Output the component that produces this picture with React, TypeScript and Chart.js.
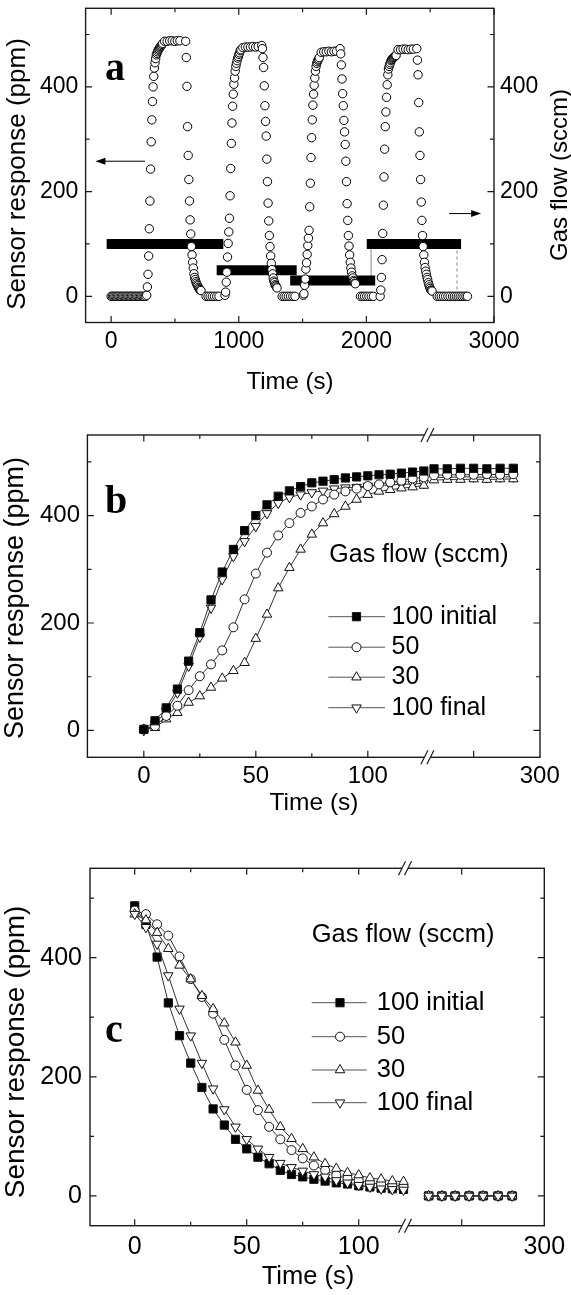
import React, { useEffect, useRef } from "react";
import { Chart, registerables } from "chart.js";
import { drawPoint } from "chart.js/helpers";

Chart.register(...registerables);

// ======================= DATA =======================
const seriesNames = ["100 initial", "50", "30", "100 final"];

// Panel b: response rise after switching the gas on (time in s, response in ppm)
const riseTimes = [0, 5, 10, 15, 20, 25, 30, 35, 40, 45, 50, 55, 60, 65, 70, 75, 80, 85, 90, 95, 100, 105, 110, 115, 120, 125];
const rise100Initial = [2, 18, 42, 77, 129, 182, 243, 295, 337, 372, 400, 420, 436, 446, 454, 461, 464, 467, 470, 472, 474, 476, 477, 479, 481, 483];
const rise50 = [2, 8, 27, 46, 75, 101, 123, 149, 192, 244, 292, 331, 363, 386, 405, 417, 430, 439, 445, 450, 455, 458, 462, 465, 469, 471];
const rise30 = [2, 5, 21, 33, 52, 64, 80, 97, 111, 126, 171, 216, 265, 303, 337, 365, 386, 403, 417, 430, 439, 445, 448, 451, 453, 456];
const rise100Final = [0, 12, 36, 70, 120, 174, 228, 281, 324, 352, 380, 404, 423, 434, 439, 443, 446, 450, 452, 453, 455, 456, 457, 458, 459, 460];
const riseLateTimes = [140, 160, 180, 200, 220, 240, 260];
const riseLate100Initial = [487, 487, 488, 488, 487, 488, 488];
const riseLate50 = [475, 476, 476, 476, 477, 476, 477];
const riseLate30 = [466, 467, 467, 468, 467, 468, 468];
const riseLate100Final = [471, 471, 472, 472, 471, 472, 472];

// Panel c: response decay after switching the gas off
const decayTimes = [0, 5, 10, 15, 20, 25, 30, 35, 40, 45, 50, 55, 60, 65, 70, 75, 80, 85, 90, 95, 100, 105, 110, 115, 120];
const decay100Initial = [487, 456, 401, 324, 269, 223, 182, 146, 119, 95, 79, 65, 54, 43, 36, 32, 28, 25, 22, 20, 17, 15, 13, 12, 11];
const decay50 = [479, 473, 456, 437, 402, 364, 334, 306, 262, 219, 178, 144, 116, 95, 77, 63, 51, 43, 35, 29, 26, 22, 20, 18, 16];
const decay30 = [473, 463, 442, 415, 387, 364, 336, 314, 290, 258, 219, 177, 145, 116, 96, 79, 65, 54, 46, 39, 35, 30, 28, 25, 24];
const decay100Final = [473, 451, 423, 370, 314, 269, 223, 180, 145, 116, 95, 79, 65, 55, 48, 42, 36, 32, 26, 22, 18, 15, 12, 11, 10];
const decayLateTimes = [160, 176, 192, 209, 226, 244, 261];
const decayLate100Initial = [0, 0, 0, 0, 0, 0, 0];
const decayLate50 = [0, 0, 0, 0, 0, 0, 0];
const decayLate30 = [0, 0, 0, 0, 0, 0, 0];
const decayLate100Final = [0, 0, 0, 0, 0, 0, 0];

// Panel a: whole run – cycle timing, baselines and gas flow
const cycleRiseStart = [279, 892, 1506, 2108];
const cycleDecayStart = [584, 1180, 1794, 2395];
const baselineHeadTimes = [0, 10, 20, 30, 40, 50, 60, 70, 80, 90, 100, 110, 120, 130, 140, 150, 160, 170, 180, 190, 200, 210, 220, 230, 240, 250, 260, 270];
const baselineHeadValues = [0, 0, 0, 0, 0, 0, 0, 0, 0, 0, 0, 0, 0, 0, 0, 0, 0, 0, 0, 0, 0, 0, 0, 0, 0, 0, 0, 0];
const baselineTailTimes = [2675, 2690, 2705, 2720, 2735, 2750, 2765, 2780, 2792];
const baselineTailValues = [0, 0, 0, 0, 0, 0, 0, 0, 0];
const flowStart = [-35, 827, 1403, 2003];
const flowEnd = [879, 1454, 2069, 2742];
const flowValue = [100, 50, 30, 100];
const flowStepTime = [2037, 2710];
const flowStepFrom = [30, 13];
const flowStepTo = [100, 90];

// Tick values
const responseMajorTicks = [0, 200, 400];
const responseMinorTicks = [100, 300, 500];
const timeMajorTicksA = [0, 1000, 2000, 3000];
const timeMinorTicksA = [500, 1500, 2500];
const timeMajorTicksBC = [0, 50, 100];
const timeMinorTicksBC = [25, 75];
const timeTickAfterBreak = 200;
const timeLabelAfterBreak = 300;

const riseSeries = [rise100Initial, rise50, rise30, rise100Final];
const riseLateSeries = [riseLate100Initial, riseLate50, riseLate30, riseLate100Final];
const decaySeries = [decay100Initial, decay50, decay30, decay100Final];
const decayLateSeries = [decayLate100Initial, decayLate50, decayLate30, decayLate100Final];

// ======================= STYLE =======================
const SANS = '"Liberation Sans", Arial, Helvetica, sans-serif';
const SERIF = '"Liberation Serif", "Times New Roman", serif';
const f = (px: number) => `${px}px ${SANS}`;

type Sty = { pointStyle: any; rotation: number; radius: number; fill: string };
const markerStyles: Sty[] = [
  { pointStyle: "rect", rotation: 0, radius: 5.8, fill: "#000" },
  { pointStyle: "circle", rotation: 0, radius: 4.5, fill: "#fff" },
  { pointStyle: "triangle", rotation: 0, radius: 5.5, fill: "#fff" },
  { pointStyle: "triangle", rotation: 180, radius: 5.5, fill: "#fff" },
];

// broken-axis display transforms (right segment of panels b and c)
const mapB = (t: number) => 129.55 + (t - 140) * 0.2951;
const mapC = (t: number) => 145.98 + (t - 200) * 0.3688;

type Tick = { v: number; label?: string; minor?: boolean; noMark?: boolean };
type TextItem = { text: string; x: number; y: number; font: string; rotate?: boolean; align?: CanvasTextAlign; baseline?: CanvasTextBaseline };
interface Decor {
  xTicks: Tick[];
  yTicks: Tick[];
  tickFont: string;
  xLabelY: number;
  yLabelLeftX: number;
  yLabelRightX?: number;
  texts: TextItem[];
  breakAt?: number;
  arrows?: { x1: number; x2: number; y: number }[];
  legend?: { hx: number; hy: number; x1: number; x2: number; xs: number; xt: number; ys: number[]; font: string };
}

function decorPlugin(d: Decor) {
  return {
    id: "decor",
    afterDraw(chart: any) {
      const { ctx, chartArea: ca } = chart;
      const xs = chart.scales.x;
      const ys = chart.scales.y;
      ctx.save();
      // frame
      ctx.strokeStyle = "#1a1a1a";
      ctx.lineWidth = 1.4;
      ctx.strokeRect(ca.left, ca.top, ca.right - ca.left, ca.bottom - ca.top);
      // ticks
      ctx.lineWidth = 1.2;
      for (const t of d.xTicks) {
        if (t.noMark) continue;
        const px = xs.getPixelForValue(t.v);
        const len = t.minor ? 4 : 6.5;
        ctx.beginPath();
        ctx.moveTo(px, ca.bottom);
        ctx.lineTo(px, ca.bottom - len);
        ctx.moveTo(px, ca.top);
        ctx.lineTo(px, ca.top + len);
        ctx.stroke();
      }
      for (const t of d.yTicks) {
        const py = ys.getPixelForValue(t.v);
        const len = t.minor ? 4 : 6.5;
        ctx.beginPath();
        ctx.moveTo(ca.left, py);
        ctx.lineTo(ca.left + len, py);
        ctx.moveTo(ca.right, py);
        ctx.lineTo(ca.right - len, py);
        ctx.stroke();
      }
      // tick labels
      ctx.fillStyle = "#000";
      ctx.font = d.tickFont;
      ctx.textBaseline = "middle";
      ctx.textAlign = "center";
      for (const t of d.xTicks) {
        if (t.label) ctx.fillText(t.label, xs.getPixelForValue(t.v), d.xLabelY);
      }
      for (const t of d.yTicks) {
        if (!t.label) continue;
        const py = ys.getPixelForValue(t.v);
        ctx.textAlign = "right";
        ctx.fillText(t.label, d.yLabelLeftX, py);
        if (d.yLabelRightX !== undefined) {
          ctx.textAlign = "left";
          ctx.fillText(t.label, d.yLabelRightX, py);
        }
      }
      // axis break marks
      if (d.breakAt !== undefined) {
        const bx = xs.getPixelForValue(d.breakAt);
        for (const by of [ca.top, ca.bottom]) {
          ctx.fillStyle = "#fff";
          ctx.fillRect(bx - 3, by - 2, 6, 4);
          ctx.strokeStyle = "#1a1a1a";
          ctx.lineWidth = 1.2;
          for (const dx of [-3, 3]) {
            ctx.beginPath();
            ctx.moveTo(bx + dx - 3.5, by + 7);
            ctx.lineTo(bx + dx + 3.5, by - 7);
            ctx.stroke();
          }
        }
      }
      // arrows
      ctx.strokeStyle = "#000";
      ctx.fillStyle = "#000";
      ctx.lineWidth = 1;
      for (const a of d.arrows || []) {
        const x1 = xs.getPixelForValue(a.x1);
        const x2 = xs.getPixelForValue(a.x2);
        const y = ys.getPixelForValue(a.y);
        const dir = Math.sign(x2 - x1);
        ctx.beginPath();
        ctx.moveTo(x1, y);
        ctx.lineTo(x2 - dir * 6, y);
        ctx.stroke();
        ctx.beginPath();
        ctx.moveTo(x2, y);
        ctx.lineTo(x2 - dir * 10, y - 3.5);
        ctx.lineTo(x2 - dir * 10, y + 3.5);
        ctx.closePath();
        ctx.fill();
      }
      // legend
      if (d.legend) {
        const L = d.legend;
        ctx.font = L.font;
        ctx.fillStyle = "#000";
        ctx.textAlign = "left";
        ctx.textBaseline = "middle";
        ctx.fillText("Gas flow (sccm)", L.hx, L.hy);
        L.ys.forEach((yy, i) => {
          ctx.strokeStyle = "#555";
          ctx.lineWidth = 1;
          ctx.beginPath();
          ctx.moveTo(L.x1, yy);
          ctx.lineTo(L.x2, yy);
          ctx.stroke();
          const st = markerStyles[i];
          ctx.fillStyle = st.fill;
          ctx.strokeStyle = "#111";
          ctx.lineWidth = 1;
          drawPoint(ctx, { pointStyle: st.pointStyle, rotation: st.rotation, radius: st.radius, borderWidth: 1 } as any, L.xs, yy);
          ctx.fillStyle = "#000";
          ctx.fillText(seriesNames[i], L.xt, yy);
        });
      }
      // free texts
      for (const t of d.texts) {
        ctx.save();
        ctx.font = t.font;
        ctx.fillStyle = "#000";
        ctx.textAlign = t.align || "center";
        ctx.textBaseline = t.baseline || "middle";
        ctx.translate(t.x, t.y);
        if (t.rotate) ctx.rotate(-Math.PI / 2);
        ctx.fillText(t.text, 0, 0);
        ctx.restore();
      }
      ctx.restore();
    },
  };
}

function baseOptions(pad: any, xMin: number, xMax: number) {
  return {
    responsive: false,
    maintainAspectRatio: false,
    animation: false,
    devicePixelRatio: 1,
    events: [],
    layout: { padding: pad },
    plugins: { legend: { display: false }, tooltip: { enabled: false } },
    scales: {
      x: { type: "linear", display: false, min: xMin, max: xMax },
      y: { type: "linear", display: false, min: -50, max: 550 },
    },
    elements: { line: { tension: 0 } },
  } as any;
}

const yTicksLabelled: Tick[] = [
  ...responseMajorTicks.map((v) => ({ v, label: String(v) })),
  ...responseMinorTicks.map((v) => ({ v, minor: true })),
];

// ---------------- Panel a ----------------
function configA() {
  const pts: { x: number; y: number }[] = [];
  baselineHeadTimes.forEach((t, i) => pts.push({ x: t, y: baselineHeadValues[i] }));
  for (let k = 0; k < 4; k++) {
    riseTimes.forEach((t, i) => pts.push({ x: cycleRiseStart[k] + t, y: riseSeries[k][i] }));
    riseLateTimes.forEach((t, i) => pts.push({ x: cycleRiseStart[k] + t, y: riseLateSeries[k][i] }));
    decayTimes.forEach((t, i) => pts.push({ x: cycleDecayStart[k] + t, y: decaySeries[k][i] }));
    decayLateTimes.forEach((t, i) => pts.push({ x: cycleDecayStart[k] + t, y: decayLateSeries[k][i] }));
  }
  baselineTailTimes.forEach((t, i) => pts.push({ x: t, y: baselineTailValues[i] }));

  const datasets: any[] = [
    {
      data: pts,
      showLine: false,
      pointRadius: 4.2,
      pointBackgroundColor: "#fff",
      pointBorderColor: "#000",
      pointBorderWidth: 1,
    },
  ];
  flowValue.forEach((v, i) => {
    datasets.push({
      data: [
        { x: flowStart[i], y: v },
        { x: flowEnd[i], y: v },
      ],
      borderColor: "#000",
      borderWidth: 10,
      borderCapStyle: "butt",
      pointRadius: 0,
    });
  });
  flowStepTime.forEach((t, i) => {
    datasets.push({
      data: [
        { x: t, y: flowStepFrom[i] },
        { x: t, y: flowStepTo[i] },
      ],
      borderColor: "#888",
      borderWidth: 1,
      borderDash: i === 1 ? [3, 3] : [],
      pointRadius: 0,
    });
  });

  const decor: Decor = {
    xTicks: [
      ...timeMajorTicksA.map((v) => ({ v, label: String(v) })),
      ...timeMinorTicksA.map((v) => ({ v, minor: true })),
    ],
    yTicks: yTicksLabelled,
    tickFont: f(23),
    xLabelY: 342,
    yLabelLeftX: 78.3,
    yLabelRightX: 500,
    arrows: [
      { x1: 266, x2: -123, y: 258 },
      { x1: 2648, x2: 2899, y: 158 },
    ],
    texts: [
      { text: "a", x: 105, y: 80, font: `bold 40px ${SERIF}`, align: "left", baseline: "alphabetic" },
      { text: "Time (s)", x: 290, y: 382, font: f(24) },
      { text: "Sensor response (ppm)", x: 17.5, y: 174, font: f(26), rotate: true },
      { text: "Gas flow (sccm)", x: 560.5, y: 175, font: f(24), rotate: true },
    ],
  };
  const opts = baseOptions({ left: 85.6, right: 77, top: 8.3, bottom: 87.5 }, -200, 3000);
  return { type: "line", data: { datasets }, options: opts, plugins: [decorPlugin(decor)] } as any;
}

// ---------------- Panels b and c ----------------
function seriesDatasets(
  times: number[],
  series: number[][],
  lateTimes: number[],
  late: number[][],
  mapLate: (t: number) => number,
  lastOnTop: boolean
) {
  const ds: any[] = [];
  series.forEach((vals, i) => {
    const st = markerStyles[i];
    const common = {
      order: lastOnTop ? series.length - 1 - i : i,
      borderColor: "#333",
      borderWidth: 1,
      pointStyle: st.pointStyle,
      pointRotation: st.rotation,
      pointRadius: st.radius,
      pointBackgroundColor: st.fill,
      pointBorderColor: "#111",
      pointBorderWidth: 1,
      showLine: true,
    };
    ds.push({ ...common, data: times.map((t, j) => ({ x: t, y: vals[j] })) });
    ds.push({ ...common, data: lateTimes.map((t, j) => ({ x: mapLate(t), y: late[i][j] })) });
  });
  return ds;
}

function xTicksBC(mapLate: (t: number) => number): Tick[] {
  return [
    ...timeMajorTicksBC.map((v) => ({ v, label: String(v) })),
    ...timeMinorTicksBC.map((v) => ({ v, minor: true })),
    { v: mapLate(timeTickAfterBreak) },
    { v: mapLate(timeLabelAfterBreak), label: String(timeLabelAfterBreak), noMark: true },
  ];
}

function configB() {
  const datasets = seriesDatasets(riseTimes, riseSeries, riseLateTimes, riseLateSeries, mapB, false);
  const decor: Decor = {
    xTicks: xTicksBC(mapB),
    yTicks: yTicksLabelled,
    tickFont: f(24),
    xLabelY: 366.7,
    yLabelLeftX: 80,
    breakAt: 126.6,
    legend: { hx: 329.3, hy: 145, x1: 328.3, x2: 385, xs: 356.5, xt: 391.5, ys: [206.7, 237.2, 267.2, 297.7], font: f(25) },
    texts: [
      { text: "b", x: 105, y: 103.3, font: `bold 40px ${SERIF}`, align: "left", baseline: "alphabetic" },
      { text: "Time (s)", x: 314, y: 393.3, font: f(24.5) },
      { text: "Sensor response (ppm)", x: 15.5, y: 188, font: f(27), rotate: true },
    ],
  };
  const opts = baseOptions({ left: 87.4, right: 31, top: 25, bottom: 72.7 }, -25.18, 176.87);
  return { type: "line", data: { datasets }, options: opts, plugins: [decorPlugin(decor)] } as any;
}

function configC() {
  const datasets = seriesDatasets(decayTimes, decaySeries, decayLateTimes, decayLateSeries, mapC, true);
  const decor: Decor = {
    xTicks: xTicksBC(mapC),
    yTicks: yTicksLabelled,
    tickFont: f(25),
    xLabelY: 416.7,
    yLabelLeftX: 82,
    breakAt: 120.67,
    legend: { hx: 311.7, hy: 105, x1: 311.7, x2: 366.7, xs: 340, xt: 376.7, ys: [172.7, 206.7, 240, 272.7], font: f(25.5) },
    texts: [
      { text: "c", x: 105, y: 211.7, font: `bold 40px ${SERIF}`, align: "left", baseline: "alphabetic" },
      { text: "Time (s)", x: 308, y: 446.7, font: f(25.5) },
      { text: "Sensor response (ppm)", x: 16.4, y: 222, font: f(28), rotate: true },
    ],
  };
  const opts = baseOptions({ left: 90, right: 26.7, top: 38.3, bottom: 69.3 }, -19.96, 182.85);
  return { type: "line", data: { datasets }, options: opts, plugins: [decorPlugin(decor)] } as any;
}

export default function App() {
  const refA = useRef<HTMLCanvasElement>(null);
  const refB = useRef<HTMLCanvasElement>(null);
  const refC = useRef<HTMLCanvasElement>(null);
  useEffect(() => {
    const charts = [
      new Chart(refA.current as HTMLCanvasElement, configA()),
      new Chart(refB.current as HTMLCanvasElement, configB()),
      new Chart(refC.current as HTMLCanvasElement, configC()),
    ];
    return () => charts.forEach((c) => c.destroy());
  }, []);
  return (
    <div style={{ position: "absolute", left: 0, top: 0, width: 571, height: 1295, background: "#fff" }}>
      <canvas ref={refA} width={571} height={410} style={{ position: "absolute", left: 0, top: 0, width: 571, height: 410 }} />
      <canvas ref={refB} width={571} height={420} style={{ position: "absolute", left: 0, top: 410, width: 571, height: 420 }} />
      <canvas ref={refC} width={571} height={465} style={{ position: "absolute", left: 0, top: 830, width: 571, height: 465 }} />
    </div>
  );
}
